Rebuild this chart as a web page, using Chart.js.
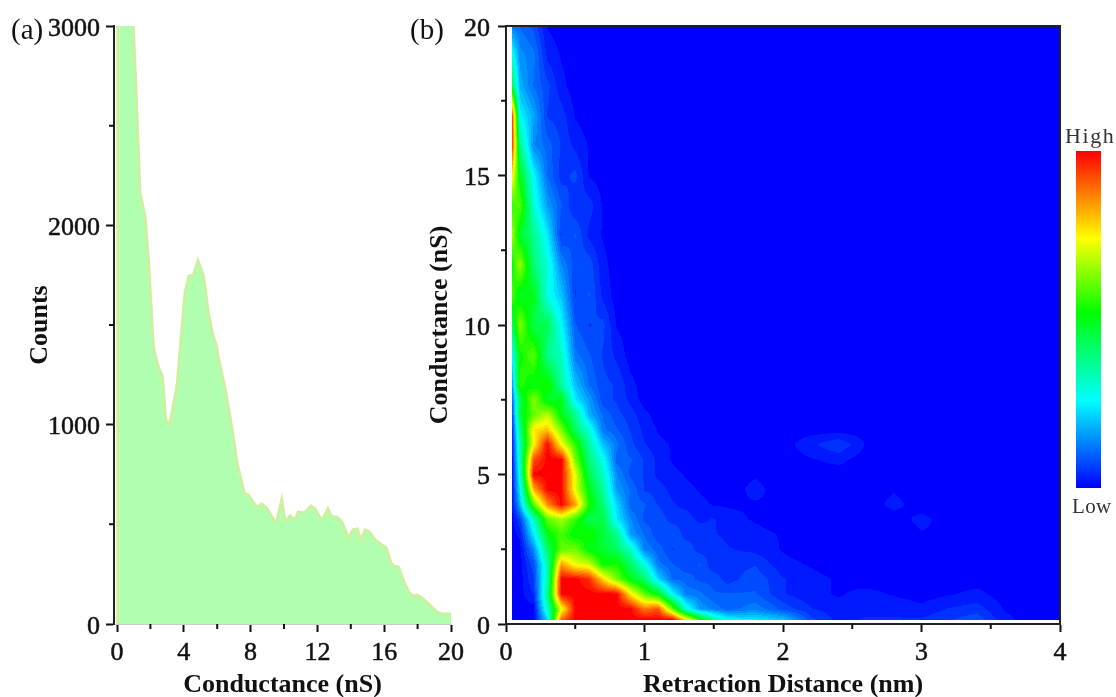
<!DOCTYPE html>
<html>
<head>
<meta charset="utf-8">
<script src="https://cdn.jsdelivr.net/npm/chart.js@4"></script>
<style>
  body { margin: 0; background: #fff; width: 1116px; height: 697px; overflow: hidden; position: relative; }
  .box { position: absolute; top: 0; height: 697px; }
  .lbl { position: absolute; font-family: "Liberation Serif", serif; color: #111; line-height: 1; white-space: nowrap; }
  #bar { position: absolute; left: 1076px; top: 151px; width: 25px; height: 337px; }
</style>
</head>
<body>
<div class="box" style="left:0;width:470px"><canvas id="histChart"></canvas></div>
<div class="box" style="left:400px;width:680px"><canvas id="mapChart"></canvas></div>
<div class="lbl" style="left:11px;top:15px;font-size:29px">(a)</div>
<div class="lbl" style="left:410px;top:15px;font-size:29px">(b)</div>
<div class="lbl" style="left:1065px;top:125px;font-size:22px;letter-spacing:1.6px;color:#333">High</div>
<div class="lbl" style="left:1072px;top:496px;font-size:21px;letter-spacing:.3px;color:#333">Low</div>
<div id="bar"></div>
<script>
// panel (a) histogram
const countX = [0.05,0.05,0.85,0.97,1.08,1.38,1.68,1.88,2.18,2.28,2.48,2.72,2.92,3.17,3.62,3.78,4.07,4.31,4.57,4.85,5.17,5.47,5.71,5.97,6.07,6.41,6.87,7.17,7.62,7.86,8.26,8.46,8.66,8.96,9.46,9.56,9.86,10.06,10.36,10.66,10.86,11.2,11.62,11.86,12.16,12.36,12.62,12.86,13.16,13.46,13.86,14.12,14.4,14.6,14.86,15.12,15.46,15.86,16.12,16.4,16.56,16.86,17.2,17.52,17.76,17.96,18.26,18.86,19.16,19.46,20];
const countY = [0,3600,3200,3000,2795,2160,2045,1826,1390,1350,1290,1240,1024,998,1214,1375,1660,1746,1750,1822,1750,1560,1460,1390,1334,1209,989,813,657,647,597,587,602,582,512,512,622,517,542,522,562,557,592,577,532,532,577,537,537,512,431,472,477,416,472,462,421,396,381,306,291,286,206,155,140,145,130,85,60,50,50];
const histXTicks = [0,4,8,12,16,20];
const histXMinor = [2,6,10,14,18];
const histYTicks = [0,1000,2000,3000];
const histYMinor = [500,1500,2500];

// panel (b) density map, 0 = blue, 100 = red
const mapXTicks = [0,1,2,3,4];
const mapXMinor = [0.5,1.5,2.5,3.5];
const mapYTicks = [0,5,10,15,20];
const mapYMinor = [2.5,7.5,12.5,17.5];
const heatX = [0.04,0.1,0.2,0.3,0.4,0.5,0.6,0.7,0.8,0.9,1,1.1,1.2,1.3,1.4,1.5,1.6,1.8,2,2.2,2.4,2.6,2.8,3,3.2,3.4,3.6,3.8,4];
const heatY = [20,19,18,17,16,15,14,13,12,11,10,9,8,7.5,7,6.5,6,5.5,5,4.5,4,3.5,3,2.5,2,1.5,1,0.5,0.15];
const heatRows = [
  [13,11,8,1],
  [30,15,12,3,1],
  [46,18,11,7,2],
  [100,26,17,6,5,1],
  [100,38,14,10,6,3,1],
  [78,50,26,11,5,7,1],
  [56,60,30,16,9,4,5,1],
  [68,48,38,24,6,9,3,1],
  [50,66,40,30,14,7,8,2],
  [60,48,50,28,20,6,9,3],
  [40,64,44,44,26,9,6,7,1],
  [24,52,60,38,32,12,9,6,3],
  [12,56,50,54,36,20,11,7,6,2],
  [8,44,64,48,50,24,16,7,6,3],
  [4,46,60,68,50,38,18,11,7,5,2],
  [2,38,76,80,62,42,30,12,9,6,3,1],
  [0,34,74,100,74,56,36,20,12,7,4,2,1,0,0,0,0,0,0,3,6,1],
  [0,32,92,100,100,62,40,28,10,9,6,3,1,0,0,0,0,0,0,1,2],
  [0,28,100,100,100,72,44,32,14,8,6,3,2,1,0,0,0,1],
  [0,24,82,100,100,72,50,36,16,11,6,5,3,2,1,0,0,2,0,0,0,0,1],
  [0,18,60,86,100,84,54,40,22,10,9,6,4,3,2,1,1,1,1,0,0,0,2],
  [0,6,32,60,66,56,44,46,24,14,8,8,5,5,3,4,2,1,0,0,0,0,0,2],
  [0,2,24,50,58,50,54,46,38,16,11,7,9,5,6,4,3,2,1,0,0,0,0,1,1],
  [0,0,14,42,60,62,50,48,42,32,13,10,6,8,5,6,4,3,1,0,0,0,0,0,1],
  [0,0,8,34,84,72,70,52,54,42,28,12,9,7,9,4,5,6,2,1,0,0,0,0,0,0],
  [0,0,6,34,100,100,96,78,62,50,42,22,11,10,8,8,5,8,4,2,1,0,0,0,0,0],
  [0,0,4,38,100,100,100,100,100,76,60,50,26,13,12,9,9,9,4,2,1,2,1,0,1,2],
  [0,0,0,32,72,100,100,100,100,100,88,92,62,30,16,13,10,13,8,4,2,3,3,2,4,5,1],
  [0,0,0,22,90,100,100,100,100,100,100,100,100,76,54,36,26,24,20,7,3,4,4,4,6,8,2]
];
const colorStops = [[0,'#0000ff'],[26,'#00ffff'],[52,'#00ff00'],[74,'#ffff00'],[100,'#ff0000']];

const mapNodes = [];
heatRows.forEach((row, r) => heatX.forEach((x, c) => mapNodes.push({ x: x, y: heatY[r], v: row[c] || 0 })));

function heatRgb(v) {
  v = Math.round(v / 2.5) * 2.5; // contour bands
  const rgb = [[0,0,255],[0,255,255],[0,255,0],[255,255,0],[255,0,0]];
  let i = 0;
  while (i < 3 && v > colorStops[i + 1][0]) i++;
  const t = (v - colorStops[i][0]) / (colorStops[i + 1][0] - colorStops[i][0]);
  return rgb[i].map((a, k) => a + (rgb[i + 1][k] - a) * t);
}

function findCell(list, val) {
  let i = 0;
  while (i < list.length - 2 && !(val >= Math.min(list[i], list[i + 1]) && val <= Math.max(list[i], list[i + 1]))) i++;
  return [i, (val - list[i]) / (list[i + 1] - list[i])];
}

const heatPlugin = {
  id: 'heat',
  beforeDatasetsDraw(chart) {
    const xs = chart.scales.x, ys = chart.scales.y;
    const nodes = chart.data.datasets[0].data;
    const nx = heatX.length;
    const x0 = Math.round(xs.getPixelForValue(heatX[0])), x1 = Math.round(xs.getPixelForValue(heatX[nx - 1]));
    const y0 = Math.round(ys.getPixelForValue(heatY[0])), y1 = Math.round(ys.getPixelForValue(heatY[heatY.length - 1]));
    const img = chart.ctx.createImageData(x1 - x0, y1 - y0);
    let p = 0;
    for (let py = y0; py < y1; py++) {
      const [r, tr] = findCell(heatY, ys.getValueForPixel(py + 0.5));
      for (let px = x0; px < x1; px++) {
        const [c, tc] = findCell(heatX, xs.getValueForPixel(px + 0.5));
        const a = nodes[r * nx + c].v, b = nodes[r * nx + c + 1].v;
        const d = nodes[(r + 1) * nx + c].v, e = nodes[(r + 1) * nx + c + 1].v;
        const v = (a * (1 - tc) + b * tc) * (1 - tr) + (d * (1 - tc) + e * tc) * tr;
        const col = heatRgb(v);
        img.data[p++] = col[0]; img.data[p++] = col[1]; img.data[p++] = col[2]; img.data[p++] = 255;
      }
    }
    chart.ctx.putImageData(img, x0, y0);
  },
  afterDatasetsDraw(chart) {
    const { ctx, chartArea: a } = chart;
    ctx.save();
    ctx.strokeStyle = '#222';
    ctx.lineWidth = 2;
    ctx.beginPath();
    ctx.moveTo(a.left, a.top);
    ctx.lineTo(a.right, a.top);
    ctx.lineTo(a.right, a.bottom);
    ctx.stroke();
    ctx.restore();
  }
};

// short unlabelled ticks, chart.js only has one tick length per axis
const minorTicks = {
  id: 'minorTicks',
  afterDraw(chart, args, opts) {
    const { ctx, chartArea: a, scales } = chart;
    ctx.save();
    ctx.strokeStyle = '#111';
    ctx.lineWidth = 2;
    ctx.beginPath();
    opts.x.forEach(v => {
      const px = scales.x.getPixelForValue(v);
      ctx.moveTo(px, a.bottom);
      ctx.lineTo(px, a.bottom + 5);
    });
    opts.y.forEach(v => {
      const py = scales.y.getPixelForValue(v);
      ctx.moveTo(a.left, py);
      ctx.lineTo(a.left - 5, py);
    });
    ctx.stroke();
    ctx.restore();
  }
};

const tickFont = { family: '"Liberation Serif", serif', size: 26 };
const titleFont = { family: '"Liberation Serif", serif', size: 26, weight: 'bold' };

function axis(min, max, majors, title, opts) {
  return Object.assign({
    type: 'linear',
    min: min,
    max: max,
    afterBuildTicks: s => { s.ticks = majors.map(v => ({ value: v })); },
    ticks: {
      font: tickFont, color: '#111', padding: 6, maxRotation: 0, autoSkip: false,
      textStrokeWidth: 0.5, textStrokeColor: '#111',
      callback: v => String(v)
    },
    grid: { display: true, drawOnChartArea: false, drawTicks: true, tickLength: 8, tickColor: '#111', tickWidth: 2 },
    border: { display: true, color: '#222', width: 2 },
    title: { display: true, text: title, font: titleFont, color: '#111', padding: { top: 0, bottom: -4 } }
  }, opts);
}

// y labels sit about 3px below their tick: an empty first line with a small line height does that
function yTicks(pad) {
  return {
    font: Object.assign({}, tickFont, { lineHeight: '6px' }),
    color: '#111', padding: pad, autoSkip: false,
    textStrokeWidth: 0.5, textStrokeColor: '#111',
    callback: v => ['', String(v)]
  };
}

const yTitle = text => ({ display: true, text: text, font: titleFont, color: '#111', padding: { top: -1, bottom: 0 } });

const histData = countX.map((x, i) => ({ x: x, y: countY[i] }));

new Chart(document.getElementById('histChart'), {
  type: 'scatter',
  data: {
    datasets: [{
      data: histData,
      showLine: true,
      fill: 'origin',
      backgroundColor: '#b0ffb0',
      borderColor: '#cdf0a0',
      borderWidth: 3,
      pointRadius: 0,
      tension: 0
    }]
  },
  options: {
    responsive: true,
    maintainAspectRatio: false,
    animation: false,
    devicePixelRatio: 1,
    layout: { padding: { left: 26, top: 26, right: 19, bottom: 0 } },
    plugins: {
      legend: { display: false },
      tooltip: { enabled: false },
      minorTicks: { x: histXMinor, y: histYMinor }
    },
    scales: {
      x: axis(-0.18, 20, histXTicks, 'Conductance (nS)', {
        border: { display: true, color: '#cccccc', width: 1 },
        afterFit: s => { s.height = 73; }
      }),
      y: axis(0, 3000, histYTicks, 'Counts', {
        ticks: yTicks(6),
        title: yTitle('Counts'),
        afterFit: s => { s.width = 88; }
      })
    }
  },
  plugins: [minorTicks]
});

new Chart(document.getElementById('mapChart'), {
  type: 'scatter',
  data: { datasets: [{ data: mapNodes, pointRadius: 0 }] },
  options: {
    responsive: true,
    maintainAspectRatio: false,
    animation: false,
    devicePixelRatio: 1,
    layout: { padding: { left: 26, top: 26, right: 20, bottom: 0 } },
    plugins: {
      legend: { display: false },
      tooltip: { enabled: false },
      minorTicks: { x: mapXMinor, y: mapYMinor }
    },
    scales: {
      x: axis(0, 4, mapXTicks, 'Retraction Distance (nm)', {
        afterFit: s => { s.height = 73; }
      }),
      y: axis(0, 20, mapYTicks, 'Conductance (nS)', {
        ticks: yTicks(8),
        title: yTitle('Conductance (nS)'),
        afterFit: s => { s.width = 80; }
      })
    }
  },
  plugins: [heatPlugin, minorTicks]
});

document.getElementById('bar').style.background = 'linear-gradient(to top,' +
  colorStops.map(s => s[1] + ' ' + s[0] + '%').join(',') + ')';
</script>
</body>
</html>
